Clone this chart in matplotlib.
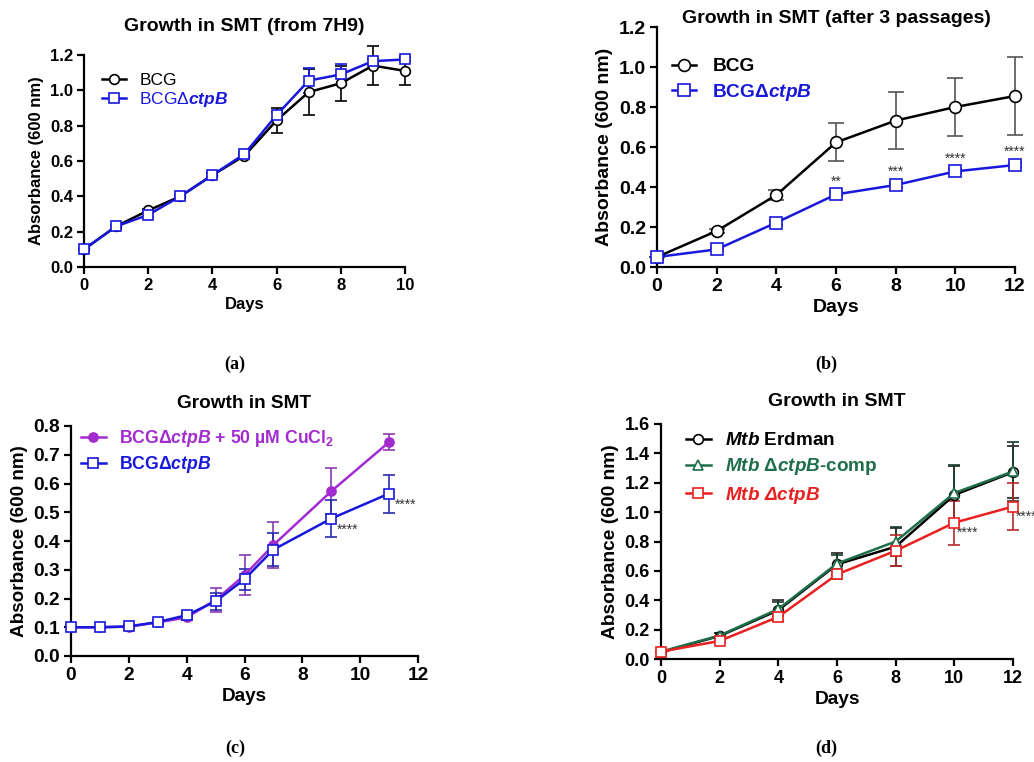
import numpy as np
import matplotlib
matplotlib.use("Agg")
import matplotlib.pyplot as plt

plt.rcParams['font.family'] = ['Liberation Sans', 'DejaVu Sans']
plt.rcParams['font.weight'] = 'bold'
plt.rcParams['mathtext.fontset'] = 'custom'
plt.rcParams['mathtext.rm'] = 'Liberation Sans:bold'
plt.rcParams['mathtext.bf'] = 'Liberation Sans:bold'
plt.rcParams['mathtext.it'] = 'Liberation Sans:italic'
plt.rcParams['mathtext.bfit'] = 'Liberation Sans:italic:bold'

# (a) growth from 7H9
days_a = [0, 1, 2, 3, 4, 5, 6, 7, 8, 9, 10]
bcg_a = [0.10, 0.23, 0.32, 0.40, 0.52, 0.63, 0.83, 0.99, 1.04, 1.14, 1.11]
bcg_a_err = [0.0, 0.01, 0.01, 0.01, 0.01, 0.01, 0.07, 0.13, 0.10, 0.11, 0.08]
ko_a = [0.10, 0.23, 0.295, 0.40, 0.52, 0.64, 0.86, 1.055, 1.09, 1.165, 1.175]
ko_a_err = [0.0, 0.01, 0.01, 0.01, 0.01, 0.01, 0.02, 0.07, 0.06, 0.01, 0.01]

# (b) after 3 passages
days_b = [0, 2, 4, 6, 8, 10, 12]
bcg_b = [0.05, 0.18, 0.36, 0.623, 0.732, 0.80, 0.855]
bcg_b_err = [0.0, 0.01, 0.025, 0.095, 0.143, 0.147, 0.195]
ko_b = [0.05, 0.088, 0.222, 0.363, 0.41, 0.478, 0.51]
ko_b_err = [0.0, 0.005, 0.01, 0.01, 0.01, 0.01, 0.01]
stars_b = ['', '', '', '**', '***', '****', '****']

# (c) copper supplementation
days_c = [0, 1, 2, 3, 4, 5, 6, 7, 9, 11]
cu_c = [0.10, 0.10, 0.102, 0.117, 0.134, 0.195, 0.281, 0.386, 0.573, 0.744]
cu_c_err = [0.0, 0.0, 0.005, 0.008, 0.008, 0.043, 0.07, 0.08, 0.08, 0.027]
ko_c = [0.10, 0.10, 0.103, 0.118, 0.142, 0.19, 0.267, 0.37, 0.478, 0.565]
ko_c_err = [0.0, 0.0, 0.005, 0.008, 0.008, 0.03, 0.037, 0.058, 0.065, 0.066]
stars_c = ['', '', '', '', '', '', '', '', '****', '****']

# (d) Mtb strains
days_d = [0, 2, 4, 6, 8, 10, 12]
erd_d = [0.046, 0.157, 0.332, 0.644, 0.765, 1.117, 1.272]
erd_d_err = [0.0, 0.02, 0.07, 0.075, 0.13, 0.20, 0.175]
comp_d = [0.05, 0.16, 0.34, 0.65, 0.80, 1.13, 1.277]
comp_d_err = [0.0, 0.02, 0.05, 0.06, 0.10, 0.19, 0.20]
ko_d = [0.05, 0.123, 0.287, 0.576, 0.737, 0.928, 1.038]
ko_d_err = [0.0, 0.01, 0.03, 0.03, 0.105, 0.15, 0.16]
stars_d = ['', '', '', '', '', '****', '****']

BLUE = '#1818dc'
PURPLE = '#a22bd0'
GREEN = '#1f6e4a'
RED = '#ea2020'

W, H = 1034, 762
fig = plt.figure(figsize=(W / 100, H / 100), dpi=100)


def add_ax(x0, y0, x1, y1):
    # pixel box -> figure fraction
    return fig.add_axes([x0 / W, 1 - y1 / H, (x1 - x0) / W, (y1 - y0) / H])


def style(ax, xmax, xstep, ymax, ystep, tick_fs, lab_fs, title, title_fs, pad):
    ax.spines['top'].set_visible(False)
    ax.spines['right'].set_visible(False)
    ax.spines['left'].set_linewidth(1.6)
    ax.spines['bottom'].set_linewidth(1.6)
    ax.set_xlim(0, xmax)
    ax.set_ylim(0, ymax)
    ax.set_xticks(np.arange(0, xmax + 0.01, xstep))
    yt = np.arange(0, ymax + 0.001, ystep)
    ax.set_yticks(yt)
    ax.set_yticklabels(['%.1f' % v for v in yt])
    ax.tick_params(direction='out', width=1.6, length=5, labelsize=tick_fs, pad=3)
    ax.set_xlabel('Days', fontsize=lab_fs, fontweight='bold', labelpad=3)
    ax.set_ylabel('Absorbance (600 nm)', fontsize=lab_fs, fontweight='bold', labelpad=4)
    ax.set_title(title, fontsize=title_fs, fontweight='bold', pad=pad)


def series(ax, x, y, err, color, marker, ecolor=None, mfc='white', ms=7, cap=4):
    c = ax.errorbar(x, y, yerr=err, color=color, ecolor=ecolor or color,
                    marker=marker, markersize=ms, mfc=mfc, mec=color, mew=1.2,
                    lw=1.8, elinewidth=1.2, capsize=cap, capthick=1.2,
                    clip_on=False, zorder=3)
    for art in c.lines[1] + c.lines[2]:
        art.set_clip_on(False)
    return c.lines[0]


def legend(ax, handles, labels, px, py, fs, hl, tp, ls, weight='bold'):
    ax.legend(handles, labels, loc='upper left', bbox_to_anchor=(px / W, 1 - py / H),
              bbox_transform=fig.transFigure, frameon=False, borderpad=0,
              borderaxespad=0, handlelength=hl, handletextpad=tp, labelspacing=ls,
              labelcolor='linecolor', prop={'size': fs, 'weight': weight})


def panel(label, px, py):
    fig.text(px / W, 1 - py / H, label, ha='center', va='center', fontsize=13,
             fontweight='bold', family='Liberation Serif')


def stars(ax, xs, ys, marks, dx, dy, ha, va):
    for xd, yd, s in zip(xs, ys, marks):
        if s:
            ax.text(xd + dx, yd + dy, s, ha=ha, va=va, fontsize=10,
                    fontweight='normal', color='#333333', clip_on=False)


# ---- (a)
ax = add_ax(84, 55, 405, 267)
h1 = series(ax, days_a, bcg_a, bcg_a_err, 'black', 'o')
h2 = series(ax, days_a, ko_a, ko_a_err, BLUE, 's')
style(ax, 10, 2, 1.2, 0.2, 12, 12, 'Growth in SMT (from 7H9)', 14, 17)
legend(ax, [h1, h2], ['BCG', r'BCGΔ$\mathit{ctpB}$'], 102, 73, 12.5, 1.4, 0.75, 0.1,
       weight='normal')
panel('(a)', 235, 364)

# ---- (b)
ax = add_ax(657, 27, 1015, 267)
h1 = series(ax, days_b, bcg_b, bcg_b_err, 'black', 'o', ecolor='#555555', ms=8.5, cap=6)
h2 = series(ax, days_b, ko_b, ko_b_err, BLUE, 's', ms=8.5, cap=5)
style(ax, 12, 2, 1.2, 0.2, 14, 14, 'Growth in SMT (after 3 passages)', 14, 0)
legend(ax, [h1, h2], ['BCG', r'BCGΔ$\mathbfit{ctpB}$'], 672, 58, 13.8, 1.25, 0.85, 0.35)
stars(ax, days_b, ko_b, stars_b, 0, 0.03, 'center', 'bottom')
panel('(b)', 826, 364)

# ---- (c)
ax = add_ax(71, 426, 418, 656)
h1 = series(ax, days_c, cu_c, cu_c_err, PURPLE, 'o', ecolor='#8a3cb0', mfc=PURPLE, ms=6.5)
h2 = series(ax, days_c, ko_c, ko_c_err, BLUE, 's', ecolor='#2a2ab0', ms=7)
style(ax, 12, 2, 0.8, 0.1, 13.8, 13.6, 'Growth in SMT', 13.7, 13)
legend(ax, [h1, h2],
       [r'BCGΔ$\mathbfit{ctpB}$ + 50 µM CuCl$_\mathbf{2}$', r'BCGΔ$\mathbfit{ctpB}$'],
       81, 428, 12.7, 1.4, 0.75, 0.3)
stars(ax, days_c, ko_c, stars_c, 0.2, -0.038, 'left', 'center')
panel('(c)', 235, 748)

# ---- (d)
ax = add_ax(661, 424, 1013, 659)
h1 = series(ax, days_d, erd_d, erd_d_err, 'black', 'o', ecolor='#222222')
h2 = series(ax, days_d, comp_d, comp_d_err, GREEN, '^', ecolor='#1a3d2c')
h3 = series(ax, days_d, ko_d, ko_d_err, RED, 's', ecolor='#b52a2a')
style(ax, 12, 2, 1.6, 0.2, 13, 13.8, 'Growth in SMT', 14, 13)
legend(ax, [h1, h2, h3],
       [r'$\mathbfit{Mtb}$ Erdman', r'$\mathbfit{Mtb}$ Δ$\mathbfit{ctpB}$-comp',
        r'$\mathbfit{Mtb\ \Delta ctpB}$'],
       686, 432, 13.6, 1.3, 0.75, 0.38)
stars(ax, days_d, ko_d, stars_d, 0.1, -0.07, 'left', 'center')
panel('(d)', 826, 748)

plt.savefig('out.png', dpi=100)
